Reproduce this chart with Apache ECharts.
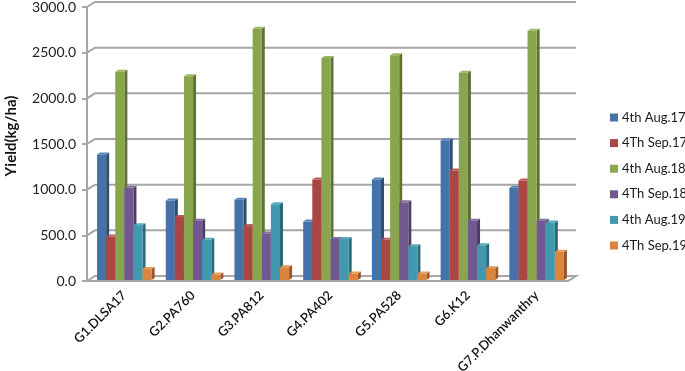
<!DOCTYPE html>
<html><head><meta charset="utf-8">
<style>html,body{margin:0;padding:0;background:#fff}#c{width:685px;height:371px}</style>
<script src="https://cdn.jsdelivr.net/npm/echarts@6/dist/echarts.min.js"></script>
</head><body><div id="c"></div>
<script>
const categories = ['G1.DLSA17','G2.PA760','G3.PA812','G4.PA402','G5.PA528','G6.K12','G7.P.Dhanwanthry'];
const yTicks = [0,500,1000,1500,2000,2500,3000];
const aug17 = [1375,870,880,640,1100,1530,1010];
const sep17 = [475,690,590,1100,440,1200,1090];
const aug18 = [2280,2230,2750,2430,2460,2270,2730];
const sep18 = [1010,650,510,450,850,650,650];
const aug19 = [600,440,830,450,370,380,630];
const sep19 = [120,60,140,70,70,130,310];
const seriesNames = ['4th Aug.17','4Th Sep.17','4th Aug.18','4Th Sep.18','4th Aug.19','4Th Sep.19'];
const seriesValues = [aug17,sep17,aug18,sep18,aug19,sep19];
const faceColors = ['#4572A7','#AA4643','#89A54E','#71588F','#4198AF','#DB843D'];
const sideColors = ['#2F4E74','#76302E','#5E7236','#4E3D63','#2C6A7A','#98592A'];
const topColors  = ['#5A86BA','#BC5C59','#9DB663','#8570A2','#58AABF','#E59A5C'];

const FONT = 'Lato, "Open Sans", sans-serif';
const DX = 3, DY = 2, WALL_DX = 8, WALL_DY = 5;

const chart = echarts.init(document.getElementById('c'), null, {renderer:'canvas'});

function wallItem(params, api){
  const cs = params.coordSys;
  const y = api.coord([0, api.value(1)])[1];
  const x0 = cs.x, x1 = cs.x + cs.width;
  const style = {stroke:'#A6A6A6', lineWidth:2, fill:null};
  const points = api.value(1) === 0
    ? [[x0,y],[x0+WALL_DX,y-WALL_DY],[x1+WALL_DX,y-WALL_DY],[x1,y],[x0,y]]
    : [[x0,y],[x0+WALL_DX,y-WALL_DY],[x1+WALL_DX,y-WALL_DY]];
  return {type:'polyline', shape:{points}, style};
}

function barRenderer(si){
  return function(params, api){
    const band = api.size([1,0])[0];
    const w = band * 0.1325;
    const c = api.coord([api.value(0), api.value(1)]);
    const base = api.coord([api.value(0), 0])[1] - 1;
    const left = c[0] + 3 - 3*w + si*w;
    const right = left + w;
    const top = c[1] - 1;
    return {type:'group', children:[
      {type:'polygon', shape:{points:[[right,base],[right+DX,base-DY],[right+DX,top-DY],[right,top]]}, style:{fill:sideColors[si]}},
      {type:'polygon', shape:{points:[[left,top],[left+DX,top-DY],[right+DX,top-DY],[right,top]]}, style:{fill:topColors[si]}},
      {type:'rect', shape:{x:left,y:top,width:w,height:base-top}, style:{fill:faceColors[si]}}
    ]};
  };
}

const barSeries = seriesNames.map((name,si)=>({
  name, type:'custom', coordinateSystem:'cartesian2d', clip:false, z:3,
  itemStyle:{color:faceColors[si]},
  encode:{x:0,y:1},
  data: seriesValues[si].map((v,i)=>[i,v]),
  renderItem: barRenderer(si)
}));

chart.setOption({
  animation:false,
  backgroundColor:'#fff',
  grid:{left:87, top:7, width:481, height:274, containLabel:false, outerBoundsMode:'none'},
  legend:{
    orient:'vertical', left:605, top:106, itemWidth:8, itemHeight:8, itemGap:12.6, padding:5,
    icon:'rect', data:seriesNames,
    textStyle:{fontFamily:FONT, fontSize:13, color:'#1a1a1a', padding:[0,0,0,-1]}
  },
  xAxis:{
    type:'category', data:categories, boundaryGap:true,
    axisLine:{show:false}, axisTick:{show:false}, splitLine:{show:false},
    axisLabel:{rotate:45, interval:0, margin:15, padding:[0,-4,0,0], fontFamily:FONT, fontSize:13, fontWeight:600, color:'#111'}
  },
  yAxis:{
    type:'value', min:0, max:3000, interval:500,
    name:'Yield(kg/ha)', nameLocation:'middle', nameGap:68, nameRotate:90,
    nameTextStyle:{fontFamily:FONT, fontSize:15, fontWeight:'bold', color:'#111', padding:[0,0,0,16]},
    axisLine:{show:true, lineStyle:{color:'#A6A6A6', width:2}},
    axisTick:{show:true, length:5, lineStyle:{color:'#A6A6A6', width:2}},
    splitLine:{show:false},
    axisLabel:{formatter:v=>v.toFixed(1), margin:11, fontFamily:FONT, fontSize:14, color:'#222'}
  },
  series:[
    {name:'walls', type:'custom', coordinateSystem:'cartesian2d', clip:false, z:1, silent:true,
     encode:{x:0,y:1}, data:yTicks.map(v=>[0,v]), renderItem:wallItem},
    ...barSeries
  ]
});
</script></body></html>
